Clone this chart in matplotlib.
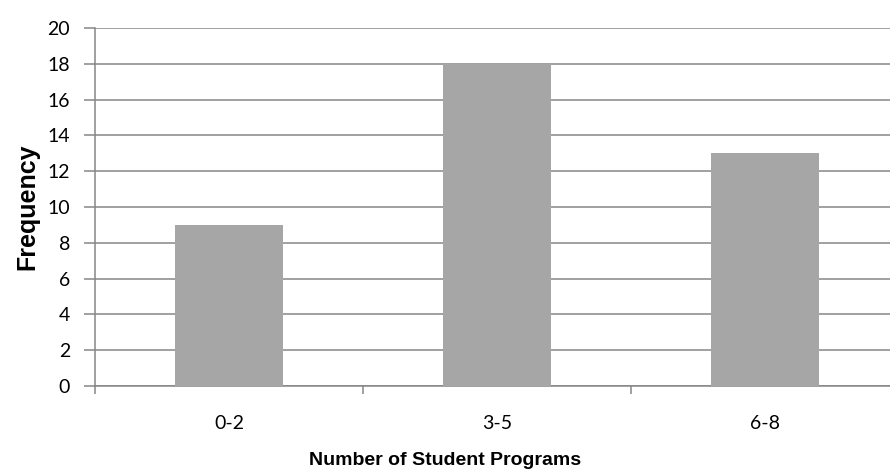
import matplotlib.pyplot as plt
import numpy as np

categories = ['0-2', '3-5', '6-8']
frequency = [9, 18, 13]

grid_color = '#868686'
bar_color = '#a6a6a6'

fig = plt.figure(figsize=(8.9, 4.72), dpi=100)
# plot area runs a little past the right edge of the picture, as in the source
ax = fig.add_axes([95 / 890, 1 - 386 / 472, 804 / 890, (386 - 28) / 472])

x = np.arange(len(categories))
ax.bar(x, frequency, width=0.4, color=bar_color, zorder=3)

ax.set_xlim(-0.5, len(categories) - 0.5)
ax.set_ylim(0, 20)
ax.set_yticks(np.arange(0, 21, 2))
ax.yaxis.grid(True, color=grid_color, linewidth=1.1, zorder=0)

ax.set_xticks(x)
ax.set_xticklabels(categories)
ax.set_xticks(np.arange(-0.5, len(categories)), minor=True)
ax.tick_params(axis='x', which='major', length=0, pad=21)
ax.tick_params(axis='x', which='minor', length=6, width=1.1, color=grid_color)
ax.tick_params(axis='y', length=8, width=1.1, color=grid_color, pad=10)
for lbl in ax.get_xticklabels() + ax.get_yticklabels():
    lbl.set_fontfamily('Lato')
    lbl.set_fontsize(14)

for side in ['top', 'right']:
    ax.spines[side].set_visible(False)
for side in ['left', 'bottom']:
    ax.spines[side].set_color(grid_color)
    ax.spines[side].set_linewidth(1.1)

ax.set_xlabel('Number of Student Programs', fontfamily='Liberation Sans',
              fontweight='bold', fontsize=14, labelpad=14)
ax.xaxis.label.set_x((445 - 95) / 804)  # centred on the picture, not the axes
ax.set_ylabel('Frequency', fontfamily='Liberation Sans',
              fontweight='bold', fontsize=18, labelpad=6)

fig.savefig('out.png', dpi=100)
plt.close(fig)
